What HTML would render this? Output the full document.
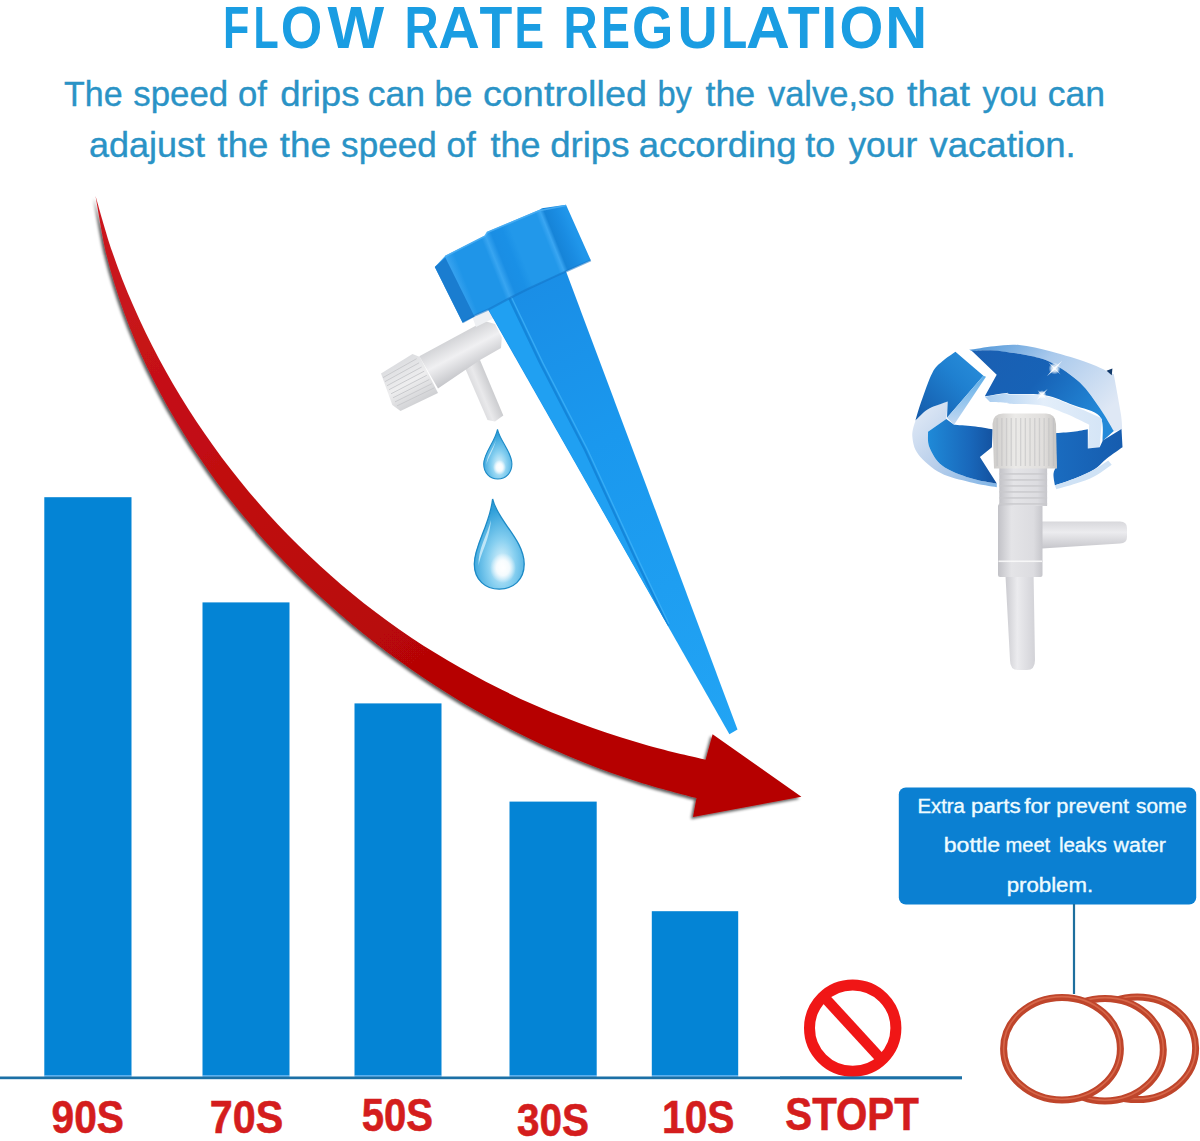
<!DOCTYPE html>
<html>
<head>
<meta charset="utf-8">
<title>Flow Rate Regulation</title>
<style>
html,body{margin:0;padding:0;background:#fff;}
body{width:1200px;height:1141px;overflow:hidden;font-family:"Liberation Sans",sans-serif;}
svg{display:block;position:absolute;left:0;top:0;}
text{font-family:"Liberation Sans",sans-serif;}
.t{font-weight:bold;fill:#1a9de2;font-size:60px;}
.s{fill:#2a93c6;font-size:34.5px;stroke:#2a93c6;stroke-width:0.35px;}
.l{font-weight:bold;fill:#d41d1d;font-size:46px;stroke:#d41d1d;stroke-width:0.6px;}
.c{fill:#eefbff;font-size:19.5px;stroke:#eefbff;stroke-width:0.35px;}
</style>
</head>
<body>
<svg width="1200" height="1141" viewBox="0 0 1200 1141">
<defs>
<filter id="ash" x="-5%" y="-5%" width="110%" height="110%">
<feGaussianBlur in="SourceAlpha" stdDeviation="1.7" result="b"/>
<feOffset in="b" dx="-1.6" dy="2.2" result="o"/>
<feComponentTransfer in="o" result="s"><feFuncA type="linear" slope="0.65"/></feComponentTransfer>
<feMerge><feMergeNode in="s"/><feMergeNode in="SourceGraphic"/></feMerge>
</filter>
<clipPath id="cpCone"><polygon points="480.3,295 561.1,258.3 737.5,729.4 729.4,734.3"/></clipPath>
<linearGradient id="gArr" gradientUnits="userSpaceOnUse" x1="95" y1="196" x2="420" y2="660"><stop offset="0" stop-color="#cc1820"/><stop offset="0.55" stop-color="#c00c10"/><stop offset="1" stop-color="#b60606"/></linearGradient>
<linearGradient id="gCone" gradientUnits="userSpaceOnUse" x1="520" y1="290" x2="733" y2="732"><stop offset="0" stop-color="#1a8ee6"/><stop offset="0.35" stop-color="#1a98ee"/><stop offset="1" stop-color="#22a4f4"/></linearGradient>
<linearGradient id="gNut" gradientUnits="userSpaceOnUse" x1="440" y1="270" x2="590" y2="210">
<stop offset="0" stop-color="#4aaef4"/><stop offset="0.06" stop-color="#3aa4f0"/><stop offset="0.12" stop-color="#1f95e8"/><stop offset="0.31" stop-color="#1f95e8"/><stop offset="0.34" stop-color="#38a5f1"/><stop offset="0.38" stop-color="#1a8ee4"/><stop offset="0.45" stop-color="#1a90e6"/><stop offset="0.5" stop-color="#2298ea"/><stop offset="0.68" stop-color="#2298ea"/><stop offset="0.71" stop-color="#3aa6f2"/><stop offset="0.735" stop-color="#1684d8"/><stop offset="0.8" stop-color="#1a8ce2"/><stop offset="0.86" stop-color="#2096ea"/><stop offset="1" stop-color="#2096ea"/>
</linearGradient>
<linearGradient id="gTube" gradientUnits="userSpaceOnUse" x1="452" y1="338" x2="470" y2="372">
<stop offset="0" stop-color="#d2d3d6"/><stop offset="0.45" stop-color="#f0f0f2"/><stop offset="1" stop-color="#c4c5c9"/>
</linearGradient>
<linearGradient id="gKnob" gradientUnits="userSpaceOnUse" x1="396" y1="363" x2="420" y2="403">
<stop offset="0" stop-color="#dcdde0"/><stop offset="0.5" stop-color="#eeeeef"/><stop offset="1" stop-color="#cfd0d3"/>
</linearGradient>
<linearGradient id="gOut" gradientUnits="userSpaceOnUse" x1="470" y1="395" x2="492" y2="386">
<stop offset="0" stop-color="#d0d1d4"/><stop offset="0.5" stop-color="#e9e9eb"/><stop offset="1" stop-color="#c9cacd"/>
</linearGradient>
<radialGradient id="gDrop" cx="0.55" cy="0.72" r="0.62">
<stop offset="0" stop-color="#e4f6fd"/><stop offset="0.45" stop-color="#86cff0"/><stop offset="1" stop-color="#2f9fd9"/>
</radialGradient>
<radialGradient id="gHi" cx="0.5" cy="0.5" r="0.5">
<stop offset="0" stop-color="#ffffff" stop-opacity="1"/><stop offset="0.5" stop-color="#ffffff" stop-opacity="0.85"/><stop offset="1" stop-color="#ffffff" stop-opacity="0"/>
</radialGradient>
<linearGradient id="gSil" x1="0" y1="0" x2="1" y2="1"><stop offset="0" stop-color="#e6edf7"/><stop offset="0.5" stop-color="#b9cfeb"/><stop offset="1" stop-color="#7fb4e6"/></linearGradient>
<linearGradient id="gSil2" x1="0" y1="0" x2="1" y2="0.6"><stop offset="0" stop-color="#4a94d8"/><stop offset="0.45" stop-color="#a9c9ec"/><stop offset="1" stop-color="#dfe8f5"/></linearGradient>
<linearGradient id="gB" x1="0" y1="0" x2="1" y2="0.5"><stop offset="0" stop-color="#1a5fb2"/><stop offset="0.5" stop-color="#1762b6"/><stop offset="1" stop-color="#2389d8"/></linearGradient>
<linearGradient id="gStrip" x1="0" y1="0" x2="1" y2="0"><stop offset="0" stop-color="#a9cdf0"/><stop offset="0.5" stop-color="#e3eefa"/><stop offset="1" stop-color="#d5e5f6"/></linearGradient>
<linearGradient id="gStrip2" x1="0" y1="0" x2="0" y2="1"><stop offset="0" stop-color="#5eaee8"/><stop offset="1" stop-color="#c4d9f2"/></linearGradient>
<linearGradient id="gC" x1="0" y1="0" x2="1" y2="0"><stop offset="0" stop-color="#1a6cc0"/><stop offset="1" stop-color="#165cae"/></linearGradient>
<linearGradient id="gA" x1="0" y1="1" x2="1" y2="0"><stop offset="0" stop-color="#1459a8"/><stop offset="0.6" stop-color="#1f80d0"/><stop offset="1" stop-color="#2a90dc"/></linearGradient>
<linearGradient id="gAf" x1="0" y1="0" x2="1" y2="0"><stop offset="0" stop-color="#1f8ad8"/><stop offset="0.6" stop-color="#1968bb"/><stop offset="1" stop-color="#134f9c"/></linearGradient>
<linearGradient id="gVbody" x1="0" y1="0" x2="1" y2="0"><stop offset="0" stop-color="#c2c2c7"/><stop offset="0.3" stop-color="#e4e4e7"/><stop offset="0.8" stop-color="#dcdce0"/><stop offset="1" stop-color="#c6c6cb"/></linearGradient>
<linearGradient id="gVcap" x1="0" y1="0" x2="1" y2="0"><stop offset="0" stop-color="#cdcbc9"/><stop offset="0.35" stop-color="#ebeae8"/><stop offset="0.8" stop-color="#e0dedc"/><stop offset="1" stop-color="#c6c4c2"/></linearGradient>
<linearGradient id="gVout" x1="0" y1="0" x2="1" y2="0"><stop offset="0" stop-color="#cbcbd0"/><stop offset="0.4" stop-color="#ebebee"/><stop offset="1" stop-color="#d2d2d7"/></linearGradient>
<linearGradient id="gVside" x1="0" y1="0" x2="0" y2="1"><stop offset="0" stop-color="#d8d8dc"/><stop offset="0.4" stop-color="#ececef"/><stop offset="1" stop-color="#c6c6cb"/></linearGradient>
</defs>
<rect x="0" y="0" width="1200" height="1141" fill="#ffffff"/>
<g id="title">
<text class="t" x="223.1" y="47.7" textLength="26.4" lengthAdjust="spacingAndGlyphs">F</text>
<text class="t" x="253.6" y="47.7" textLength="25.2" lengthAdjust="spacingAndGlyphs">L</text>
<text class="t" x="280.8" y="47.7" textLength="41.5" lengthAdjust="spacingAndGlyphs">O</text>
<text class="t" x="327.5" y="47.7" textLength="56.7" lengthAdjust="spacingAndGlyphs">W</text>
<text class="t" x="404.4" y="47.7" textLength="34.1" lengthAdjust="spacingAndGlyphs">R</text>
<text class="t" x="438.3" y="47.7" textLength="41.6" lengthAdjust="spacingAndGlyphs">A</text>
<text class="t" x="479.4" y="47.7" textLength="32.8" lengthAdjust="spacingAndGlyphs">T</text>
<text class="t" x="514.5" y="47.7" textLength="29.6" lengthAdjust="spacingAndGlyphs">E</text>
<text class="t" x="563.6" y="47.7" textLength="34.1" lengthAdjust="spacingAndGlyphs">R</text>
<text class="t" x="601.3" y="47.7" textLength="28.6" lengthAdjust="spacingAndGlyphs">E</text>
<text class="t" x="632.0" y="47.7" textLength="41.3" lengthAdjust="spacingAndGlyphs">G</text>
<text class="t" x="677.4" y="47.7" textLength="40.2" lengthAdjust="spacingAndGlyphs">U</text>
<text class="t" x="721.4" y="47.7" textLength="25.6" lengthAdjust="spacingAndGlyphs">L</text>
<text class="t" x="746.0" y="47.7" textLength="43.9" lengthAdjust="spacingAndGlyphs">A</text>
<text class="t" x="787.8" y="47.7" textLength="32.0" lengthAdjust="spacingAndGlyphs">T</text>
<text class="t" x="821.2" y="47.7" textLength="16.0" lengthAdjust="spacingAndGlyphs">I</text>
<text class="t" x="839.4" y="47.7" textLength="43.8" lengthAdjust="spacingAndGlyphs">O</text>
<text class="t" x="885.3" y="47.7" textLength="41.9" lengthAdjust="spacingAndGlyphs">N</text>
</g>
<g id="subtitle">
<text class="s" x="64.1" y="105.6" textLength="58.5" lengthAdjust="spacingAndGlyphs">The</text>
<text class="s" x="133.3" y="105.6" textLength="94.9" lengthAdjust="spacingAndGlyphs">speed</text>
<text class="s" x="237.9" y="105.6" textLength="28.9" lengthAdjust="spacingAndGlyphs">of</text>
<text class="s" x="280.2" y="105.6" textLength="79.3" lengthAdjust="spacingAndGlyphs">drips</text>
<text class="s" x="367.7" y="105.6" textLength="57.3" lengthAdjust="spacingAndGlyphs">can</text>
<text class="s" x="434.6" y="105.6" textLength="37.6" lengthAdjust="spacingAndGlyphs">be</text>
<text class="s" x="482.9" y="105.6" textLength="164.1" lengthAdjust="spacingAndGlyphs">controlled</text>
<text class="s" x="657.4" y="105.6" textLength="34.4" lengthAdjust="spacingAndGlyphs">by</text>
<text class="s" x="705.5" y="105.6" textLength="49.7" lengthAdjust="spacingAndGlyphs">the</text>
<text class="s" x="767.9" y="105.6" textLength="126.6" lengthAdjust="spacingAndGlyphs">valve,so</text>
<text class="s" x="907.0" y="105.6" textLength="63.0" lengthAdjust="spacingAndGlyphs">that</text>
<text class="s" x="982.6" y="105.6" textLength="54.8" lengthAdjust="spacingAndGlyphs">you</text>
<text class="s" x="1047.7" y="105.6" textLength="57.3" lengthAdjust="spacingAndGlyphs">can</text>
<text class="s" x="88.9" y="157.2" textLength="116.1" lengthAdjust="spacingAndGlyphs">adajust</text>
<text class="s" x="217.6" y="157.2" textLength="50.8" lengthAdjust="spacingAndGlyphs">the</text>
<text class="s" x="279.7" y="157.2" textLength="51.2" lengthAdjust="spacingAndGlyphs">the</text>
<text class="s" x="341.1" y="157.2" textLength="95.6" lengthAdjust="spacingAndGlyphs">speed</text>
<text class="s" x="446.4" y="157.2" textLength="29.3" lengthAdjust="spacingAndGlyphs">of</text>
<text class="s" x="490.5" y="157.2" textLength="50.0" lengthAdjust="spacingAndGlyphs">the</text>
<text class="s" x="550.2" y="157.2" textLength="79.3" lengthAdjust="spacingAndGlyphs">drips</text>
<text class="s" x="638.7" y="157.2" textLength="157.9" lengthAdjust="spacingAndGlyphs">according</text>
<text class="s" x="805.3" y="157.2" textLength="30.0" lengthAdjust="spacingAndGlyphs">to</text>
<text class="s" x="848.4" y="157.2" textLength="69.0" lengthAdjust="spacingAndGlyphs">your</text>
<text class="s" x="929.4" y="157.2" textLength="146.4" lengthAdjust="spacingAndGlyphs">vacation.</text>
</g>
<g id="bars">
<g fill="#0484d5"><rect x="44.3" y="497.2" width="87.2" height="578.1"/><rect x="202.5" y="602.4" width="87.0" height="472.9"/><rect x="354.5" y="703.4" width="87.0" height="371.9"/><rect x="509.5" y="801.6" width="87.2" height="273.7"/><rect x="651.8" y="911.2" width="86.4" height="164.1"/></g>
<g fill="#45a6f0"><rect x="44.3" y="1075.2" width="87.2" height="1.5"/><rect x="202.5" y="1075.2" width="87.0" height="1.5"/><rect x="354.5" y="1075.2" width="87.0" height="1.5"/><rect x="509.5" y="1075.2" width="87.2" height="1.5"/><rect x="651.8" y="1075.2" width="86.4" height="1.5"/></g>
<rect x="0" y="1076.5" width="962" height="2.7" fill="#1b70a6"/>
</g>
<g id="labels">
<text class="l" x="51.5" y="1132.5" textLength="72.4" lengthAdjust="spacingAndGlyphs">90S</text>
<text class="l" x="209.7" y="1132.5" textLength="73.5" lengthAdjust="spacingAndGlyphs">70S</text>
<text class="l" x="361.7" y="1131.4" textLength="71.4" lengthAdjust="spacingAndGlyphs">50S</text>
<text class="l" x="516.9" y="1135.6" textLength="72.0" lengthAdjust="spacingAndGlyphs">30S</text>
<text class="l" x="662.0" y="1132.5" textLength="72.5" lengthAdjust="spacingAndGlyphs">10S</text>
<text class="l" x="785.3" y="1130.2" textLength="133.5" lengthAdjust="spacingAndGlyphs">STOPT</text>
</g>
<g id="nosign">
<circle cx="852.7" cy="1028.1" r="43.2" fill="none" stroke="#f01616" stroke-width="11"/>
<line x1="823.2" y1="996" x2="882.2" y2="1060.2" stroke="#f01616" stroke-width="10.5"/>
<rect x="780" y="1076.5" width="182" height="2.7" fill="#1b70a6"/>
</g>
<g id="arrow">
<path d="M95.5,196.0 C98.3,205.3 105.9,233.5 112.2,251.8 C118.5,270.2 125.6,288.3 133.4,306.1 C141.1,323.9 149.7,341.4 158.8,358.6 C168.0,375.8 177.8,392.6 188.3,409.1 C198.7,425.5 209.9,441.6 221.5,457.2 C233.2,472.8 245.5,488.0 258.3,502.7 C271.1,517.3 284.5,531.6 298.3,545.3 C312.1,558.9 326.5,572.1 341.3,584.7 C356.1,597.3 371.4,609.3 387.1,620.7 C402.8,632.1 418.9,642.9 435.4,653.1 C451.9,663.2 468.7,672.8 485.9,681.8 C503.1,690.7 520.7,699.0 538.5,706.8 C556.3,714.5 574.4,721.6 592.8,728.1 C611.1,734.6 629.8,740.5 648.6,745.8 C667.4,751.1 696.1,757.5 705.6,759.8 L712.6,734.3 L801.4,796.7 L693.0,817.0 L696.5,798.1 C686.8,795.4 657.6,788.1 638.6,782.0 C619.5,776.0 600.6,769.2 582.1,761.8 C563.5,754.4 545.2,746.3 527.2,737.6 C509.3,728.8 491.6,719.5 474.3,709.5 C457.0,699.6 440.0,689.0 423.4,677.8 C406.8,666.7 390.5,654.9 374.7,642.6 C358.9,630.3 343.5,617.5 328.6,604.1 C313.6,590.7 299.1,576.8 285.1,562.4 C271.2,548.0 257.7,533.1 244.9,517.8 C232.0,502.4 219.7,486.5 208.2,470.2 C196.6,454.0 185.6,437.2 175.5,420.1 C165.3,402.9 155.8,385.3 147.2,367.4 C138.7,349.4 130.9,331.1 124.1,312.4 C117.3,293.7 111.4,274.6 106.6,255.2 C101.9,235.8 97.4,205.9 95.5,196.0 Z" fill="url(#gArr)" filter="url(#ash)"/>
</g>
<g id="spike">
<polygon points="463.5,364.5 480.0,360.0 503.3,415.5 495.0,421.5 487.5,420.0" fill="url(#gOut)"/>
<polygon points="419.3,356.3 484.5,321.0 495.0,324.0 501.8,337.5 501.0,348.0 480.0,360.0 438.0,388.5" fill="url(#gTube)"/>
<polygon points="381.0,373.5 412.5,354.0 420.0,357.0 438.0,393.0 400.5,411.0 392.3,405.0" fill="url(#gKnob)"/>
<line x1="383.0" y1="377.6" x2="416.6" y2="358.7" stroke="#c6c7cb" stroke-width="0.9"/><line x1="385.0" y1="381.6" x2="419.1" y2="362.8" stroke="#c6c7cb" stroke-width="0.9"/><line x1="387.0" y1="385.7" x2="421.7" y2="367.0" stroke="#c6c7cb" stroke-width="0.9"/><line x1="389.0" y1="389.7" x2="424.2" y2="371.2" stroke="#c6c7cb" stroke-width="0.9"/><line x1="391.0" y1="393.8" x2="426.8" y2="375.3" stroke="#c6c7cb" stroke-width="0.9"/><line x1="393.0" y1="397.8" x2="429.3" y2="379.5" stroke="#c6c7cb" stroke-width="0.9"/><line x1="395.0" y1="401.9" x2="431.9" y2="383.7" stroke="#c6c7cb" stroke-width="0.9"/><line x1="397.0" y1="405.9" x2="434.4" y2="387.8" stroke="#c6c7cb" stroke-width="0.9"/>
<polygon points="472.0,316.0 490.0,308.0 494.0,318.0 476.0,327.0" fill="#eef0f3"/>
<polygon points="479.8,295.0 561.1,258.3 737.5,729.4 729.4,734.3" fill="url(#gCone)"/>
<g clip-path="url(#cpCone)"><polygon points="479.8,295.0 507.6,295.0 540.1,362.9 585.0,450.0 636.0,560.0 668.0,626.0" fill="#20a0f2"/>
<path d="M507.6,295 L540.1,362.9 L585,450 L636,560 L668,626" fill="none" stroke="#1486da" stroke-width="2.2"/>
<path d="M510.4,295 L542.9,362.9 L587.8,450 L638.5,560 L669,624" fill="none" stroke="#3eb2f7" stroke-width="1.3" opacity="0.8"/></g>
<polygon points="434.8,267.0 445.3,255.8 485.0,235.5 487.3,231.8 539.0,210.0 542.0,208.3 566.0,204.8 590.8,260.3 569.0,270.0 554.0,276.8 530.0,288.0 509.0,298.5 489.5,309.0 476.0,315.0 462.5,322.5" fill="url(#gNut)"/>
<polygon points="434.8,267.0 445.3,257.5 474.5,316.5 462.5,322.5" fill="#1a7dd0"/>
<path d="M590.8,260.3 L569,270 L554,276.8 L530,288 L509,298.5 L489.5,309 L476,315 L462.5,322.5" fill="none" stroke="#1273c6" stroke-width="2" opacity="0.55"/>
<path d="M445.3,256.5 L485,236.2 L487.3,232.5 L539,210.7 L566,205.5" fill="none" stroke="#4fb0f4" stroke-width="1.6" opacity="0.8"/>
</g>
<g id="drops">
<path d="M497.5,429.3 C500,441 511.9,452 511.9,464 C511.9,473 505.6,479 497.8,479 C490,479 483.7,473 483.7,464 C483.7,453 495,442 497.5,429.3 Z" fill="url(#gDrop)" stroke="#1c8ac6" stroke-width="1.1"/>
<path d="M496,440 C493,449 486.5,456 486.5,465 C487.5,458 493,452 496,440 Z" fill="#d6f0fb" opacity="0.8"/>
<ellipse cx="499.5" cy="467.5" rx="6.5" ry="7.5" fill="url(#gHi)"/>
<path d="M492.6,499 C497,520 524.2,540 524.2,564 C524.2,580 513,589.2 499.3,589.2 C485.6,589.2 474.3,580 474.3,564 C474.3,545 490,525 492.6,499 Z" fill="url(#gDrop)" stroke="#1c8ac6" stroke-width="1.3"/>
<path d="M491,520 C487,536 478,548 478.5,566 C481,552 489,542 491,520 Z" fill="#d6f0fb" opacity="0.8"/>
<ellipse cx="503" cy="568" rx="13" ry="15" fill="url(#gHi)"/>
</g>
<g id="valve2">
<path d="M947.7,400.9 C944.4,402.3 933.4,406.1 928.0,409.3 C922.7,412.6 917.5,418.7 915.4,420.5 C914.9,423.1 911.9,430.4 912.3,436.0 C912.8,441.6 913.5,448.0 918.2,454.2 C923.0,460.4 932.0,468.5 940.7,473.1 C949.3,477.8 960.8,479.9 970.1,482.2 C979.5,484.6 992.3,486.3 996.8,487.2 L996.8,483.6 C992.3,482.7 979.2,481.1 970.1,478.0 C961.0,475.0 948.8,470.6 942.1,465.4 C935.3,460.3 931.8,452.8 929.4,447.2 C927.1,441.6 928.3,434.3 928.0,431.8 L946.3,419.1 L947.7,401.6 L947.7,400.9 Z" fill="url(#gSil)" />
<path d="M969.2,349.8 C973.3,349.2 985.8,347.0 994.2,346.2 C1002.5,345.5 1009.5,344.1 1019.2,345.0 C1028.8,345.9 1040.5,348.8 1052.1,351.8 C1063.6,354.8 1078.2,359.3 1088.5,363.0 C1098.8,366.8 1109.6,372.4 1113.8,374.3 C1114.9,380.8 1119.4,404.4 1120.8,413.5 C1122.2,422.6 1122.0,426.4 1122.2,429.0 L1113.8,431.8 C1111.4,427.8 1105.4,416.1 1099.7,407.9 C1094.1,399.7 1088.1,390.2 1080.1,382.7 C1072.2,375.2 1060.3,367.5 1052.1,363.0 C1043.9,358.6 1038.0,357.8 1031.0,356.0 C1024.0,354.3 1016.8,353.5 1010.0,352.5 C1003.2,351.6 996.3,350.6 990.0,350.4 C983.7,350.2 975.2,351.1 972.3,351.2 L969.2,349.8 Z" fill="url(#gSil2)" />
<path d="M971.7,350.8 C974.7,350.7 983.6,349.9 990.0,350.2 C996.4,350.5 1003.2,351.4 1010.0,352.4 C1016.8,353.3 1024.0,354.1 1031.0,355.9 C1038.0,357.6 1043.9,358.4 1052.1,362.9 C1060.3,367.4 1072.2,375.2 1080.1,382.7 C1088.1,390.2 1094.1,399.9 1099.7,407.9 C1105.4,416.0 1111.4,427.2 1113.8,431.1 L1102.6,440.9 C1102.1,436.8 1104.7,422.3 1099.7,416.3 C1094.8,410.4 1082.2,408.6 1073.1,405.1 C1064.0,401.6 1055.6,397.2 1045.1,395.3 C1034.5,393.4 1016.4,394.3 1010.0,393.9 C1003.6,393.5 1010.9,392.5 1006.7,392.9 C1002.5,393.3 988.4,395.7 984.8,396.2 L996.7,374.8 L971.7,350.8 Z" fill="url(#gB)" />
<path d="M984.8,396.7 C988.4,396.1 1002.5,393.9 1006.7,393.5 C1010.9,393.2 1003.6,394.1 1010.0,394.5 C1016.4,394.8 1034.5,394.0 1045.1,395.9 C1055.6,397.7 1064.1,402.2 1073.1,405.7 C1082.1,409.2 1094.7,415.0 1099.0,416.9 L1102.0,419.1 L1099.7,447.2 L1087.8,448.6 L1089.2,424.7 C1085.4,422.9 1073.9,417.0 1066.1,413.8 C1058.3,410.6 1051.6,407.1 1042.3,405.4 C1032.9,403.7 1015.9,404.2 1010.0,403.7 C1004.1,403.3 1010.0,403.0 1006.7,402.7 C1003.3,402.4 992.8,402.0 990.0,401.9 L984.8,396.7 Z" fill="url(#gStrip)" />
<polygon points="1106.5,370.8 1112.4,368.4 1111.8,375.2" fill="#123a6b" />
<path d="M1055.6,433.2 C1058.5,432.9 1067.7,432.4 1073.1,431.8 C1078.5,431.1 1085.4,429.7 1087.8,429.2 L1087.8,448.6 L1099.7,447.2 L1102.8,440.5 L1121.5,429.0 L1122.5,447.2 C1119.8,449.1 1111.5,454.7 1106.8,458.4 C1102.0,462.1 1099.3,466.4 1094.1,469.6 C1089.0,472.9 1082.5,475.4 1075.9,478.0 C1069.4,480.7 1058.4,484.1 1054.9,485.3 C1054.6,483.4 1053.2,476.9 1053.5,473.8 C1053.7,470.7 1055.8,468.0 1056.3,466.8 L1055.6,433.2 Z" fill="url(#gC)" />
<path d="M1054.9,485.3 C1058.4,484.1 1069.4,480.7 1075.9,478.0 C1082.5,475.4 1088.8,472.5 1094.1,469.6 C1099.5,466.7 1105.8,462.0 1108.2,460.5 L1111.7,464.7 C1108.7,466.7 1100.1,473.5 1094.1,476.6 C1088.2,479.8 1082.2,481.5 1075.9,483.6 C1069.6,485.8 1059.5,488.3 1056.3,489.3 L1054.9,485.3 Z" fill="#cfe2f5" />
<path d="M915.4,420.5 C916.4,417.5 918.2,410.3 921.0,402.3 C923.8,394.4 928.7,379.6 932.3,372.9 C935.8,366.1 938.2,365.2 942.1,361.6 C945.9,358.1 953.2,353.5 955.4,351.8 L983.4,375.7 L947.0,417.7 L947.7,401.6 C944.4,402.9 933.4,406.2 928.0,409.3 C922.7,412.5 917.5,418.7 915.4,420.5 Z" fill="url(#gA)" />
<polygon points="983.4,375.7 986.0,376.8 954.0,424.7 947.0,417.7" fill="url(#gStrip2)" />
<path d="M928.0,431.8 L946.3,419.1 L954.0,424.7 C957.1,425.0 966.5,425.4 972.9,426.2 C979.3,426.9 989.3,428.7 992.6,429.2 L991.9,447.2 L979.9,457.0 L996.8,483.6 C992.3,482.7 979.2,481.1 970.1,478.0 C961.0,475.0 948.8,470.6 942.1,465.4 C935.3,460.3 931.8,452.8 929.4,447.2 C927.1,441.6 928.3,434.3 928.0,431.8 Z" fill="url(#gAf)" />
<circle cx="1054.6" cy="368.5" r="6.1" fill="url(#gHi)" opacity="0.9"/><path d="M1046.9,376.2 L1053.9,367.8 L1062.3,360.8 L1055.3,369.2 Z" fill="#ffffff" opacity="0.9"/><path d="M1048.5,362.4 L1055.2,367.9 L1060.6,374.6 L1054.0,369.1 Z" fill="#ffffff" opacity="0.8"/>
<circle cx="1042.0" cy="394.6" r="4.4" fill="url(#gHi)" opacity="0.9"/><path d="M1036.4,400.2 L1041.3,393.9 L1047.6,389.0 L1042.7,395.3 Z" fill="#ffffff" opacity="0.9"/><path d="M1037.6,390.2 L1042.6,394.0 L1046.4,399.0 L1041.4,395.2 Z" fill="#ffffff" opacity="0.8"/>
<path d="M1005.5,576 L1033.6,576 L1035,660 Q1035,670 1027,670 L1018,670 Q1010,670 1010,660 Z" fill="url(#gVout)"/>
<path d="M1042,521.5 L1120,521.5 Q1127,521.5 1127,528 L1127,537 Q1127,543 1120,543.5 L1042,548.5 Z" fill="url(#gVside)"/>
<rect x="998" y="504" width="44.5" height="73" rx="2" fill="url(#gVbody)"/>
<rect x="998.5" y="560.5" width="43.5" height="1.6" fill="#fafafa" opacity="0.9"/>
<rect x="999.3" y="464" width="47.8" height="42" fill="url(#gVbody)"/>
<rect x="999.3" y="473.0" width="47.8" height="1.8" fill="#c9c9cd" opacity="0.8"/>
<rect x="999.3" y="479.0" width="47.8" height="1.8" fill="#c9c9cd" opacity="0.8"/>
<rect x="999.3" y="485.0" width="47.8" height="1.8" fill="#c9c9cd" opacity="0.8"/>
<rect x="999.3" y="491.0" width="47.8" height="1.8" fill="#c9c9cd" opacity="0.8"/>
<rect x="999.3" y="497.0" width="47.8" height="1.8" fill="#c9c9cd" opacity="0.8"/>
<rect x="999.3" y="503.0" width="47.8" height="1.8" fill="#c9c9cd" opacity="0.8"/>
<path d="M994,468.5 L992.5,424 Q993,413.5 1003,413.5 L1046,413.5 Q1055.5,413.5 1056,424 L1057,468.5 Z" fill="url(#gVcap)"/>
<rect x="996.5" y="418" width="1.3" height="48" fill="#bdbdc0" opacity="0.55"/>
<rect x="1001.2" y="418" width="1.3" height="48" fill="#bdbdc0" opacity="0.55"/>
<rect x="1005.9" y="418" width="1.3" height="48" fill="#bdbdc0" opacity="0.55"/>
<rect x="1010.6" y="418" width="1.3" height="48" fill="#bdbdc0" opacity="0.55"/>
<rect x="1015.3" y="418" width="1.3" height="48" fill="#bdbdc0" opacity="0.55"/>
<rect x="1020.0" y="418" width="1.3" height="48" fill="#bdbdc0" opacity="0.55"/>
<rect x="1024.7" y="418" width="1.3" height="48" fill="#bdbdc0" opacity="0.55"/>
<rect x="1029.4" y="418" width="1.3" height="48" fill="#bdbdc0" opacity="0.55"/>
<rect x="1034.1" y="418" width="1.3" height="48" fill="#bdbdc0" opacity="0.55"/>
<rect x="1038.8" y="418" width="1.3" height="48" fill="#bdbdc0" opacity="0.55"/>
<rect x="1043.5" y="418" width="1.3" height="48" fill="#bdbdc0" opacity="0.55"/>
<rect x="1048.2" y="418" width="1.3" height="48" fill="#bdbdc0" opacity="0.55"/>
<rect x="1052.9" y="418" width="1.3" height="48" fill="#bdbdc0" opacity="0.55"/>
</g>
<g id="callout">
<rect x="898.8" y="787.4" width="297.4" height="117.2" rx="7" ry="7" fill="#0b80d2"/>
<text class="c" x="917.4" y="813.0" textLength="47.5" lengthAdjust="spacingAndGlyphs">Extra</text>
<text class="c" x="971.1" y="813.0" textLength="49.4" lengthAdjust="spacingAndGlyphs">parts</text>
<text class="c" x="1024.3" y="813.0" textLength="26.1" lengthAdjust="spacingAndGlyphs">for</text>
<text class="c" x="1056.3" y="813.0" textLength="72.8" lengthAdjust="spacingAndGlyphs">prevent</text>
<text class="c" x="1136.0" y="813.0" textLength="50.9" lengthAdjust="spacingAndGlyphs">some</text>
<text class="c" x="943.8" y="852.0" textLength="56.4" lengthAdjust="spacingAndGlyphs">bottle</text>
<text class="c" x="1005.5" y="852.0" textLength="44.7" lengthAdjust="spacingAndGlyphs">meet</text>
<text class="c" x="1058.9" y="852.0" textLength="47.9" lengthAdjust="spacingAndGlyphs">leaks</text>
<text class="c" x="1113.6" y="852.0" textLength="52.4" lengthAdjust="spacingAndGlyphs">water</text>
<text class="c" x="1006.7" y="892.0" textLength="86.5" lengthAdjust="spacingAndGlyphs">problem.</text>
<rect x="1072.9" y="904" width="2.2" height="90" fill="#1d6f9e"/>
</g>
<g id="rings">
<ellipse cx="1137.2" cy="1048.3" rx="58.4" ry="51.3" fill="#ffffff" stroke="#bf452b" stroke-width="7"/><ellipse cx="1137.2" cy="1047.5" rx="58.4" ry="51.3" fill="none" stroke="#dc6e50" stroke-width="1.6" opacity="0.8"/>
<ellipse cx="1104.9" cy="1049.7" rx="58.4" ry="51.3" fill="#ffffff" stroke="#bf452b" stroke-width="7"/><ellipse cx="1104.9" cy="1048.9" rx="58.4" ry="51.3" fill="none" stroke="#dc6e50" stroke-width="1.6" opacity="0.8"/>
<ellipse cx="1062.0" cy="1048.7" rx="58.4" ry="51.3" fill="#ffffff" stroke="#bf452b" stroke-width="7"/><ellipse cx="1062.0" cy="1047.9" rx="58.4" ry="51.3" fill="none" stroke="#dc6e50" stroke-width="1.6" opacity="0.8"/>
</g>
</svg>
</body>
</html>
